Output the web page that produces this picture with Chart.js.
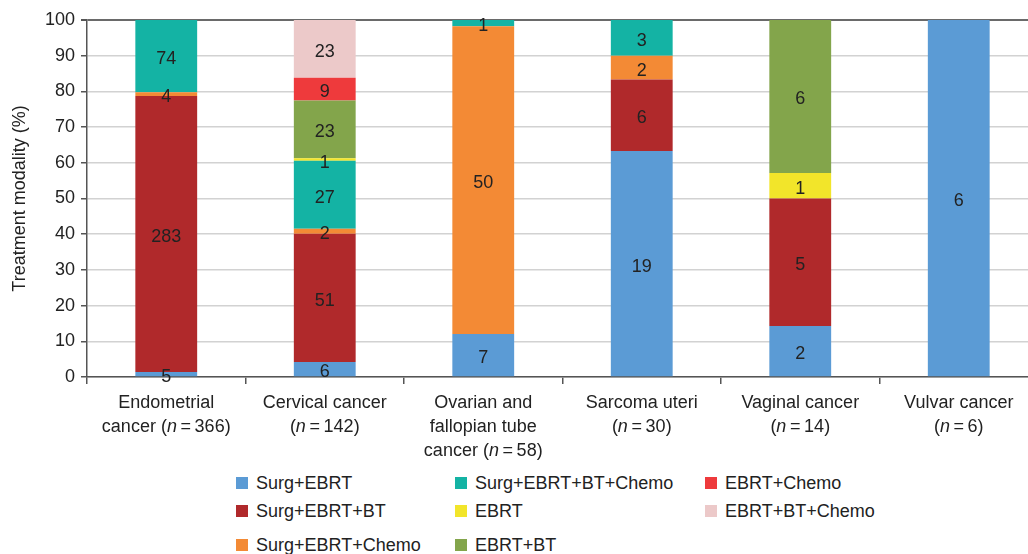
<!DOCTYPE html>
<html>
<head>
<meta charset="utf-8">
<script src="https://cdn.jsdelivr.net/npm/chart.js@4.4.1/dist/chart.umd.min.js"></script>
<style>
  html, body { margin: 0; padding: 0; background: #fff; overflow: hidden; width: 1028px; height: 554px; }
  #wrap { position: absolute; left: 0; top: 0; width: 1040px; height: 471px; }
  .lg { position: absolute; font: 18px "Liberation Sans", Arial, sans-serif; color: #222; white-space: nowrap; line-height: 20px; }
  .lg i { position: absolute; left: 0; top: 4px; width: 12px; height: 12px; }
  .lg span { position: absolute; left: 20px; top: 0; }
</style>
</head>
<body>
<div id="wrap"><canvas id="chart"></canvas></div>
<div id="legend"></div>
<script>
/* globals Chart:false */

// category labels (n is drawn in italics)
const categories = [
  ['Endometrial', 'cancer (n\u2009=\u2009366)'],
  ['Cervical cancer', '(n\u2009=\u2009142)'],
  ['Ovarian and', 'fallopian tube', 'cancer (n\u2009=\u200958)'],
  ['Sarcoma uteri', '(n\u2009=\u200930)'],
  ['Vaginal cancer', '(n\u2009=\u200914)'],
  ['Vulvar cancer', '(n\u2009=\u20096)']
]
const totals = [366, 142, 58, 30, 14, 6]

// patient counts per treatment, bottom of stack first
const seriesNames = [
  'Surg+EBRT', 'Surg+EBRT+BT', 'Surg+EBRT+Chemo', 'Surg+EBRT+BT+Chemo',
  'EBRT', 'EBRT+BT', 'EBRT+Chemo', 'EBRT+BT+Chemo'
]
const surgEbrt        = [5, 6, 7, 19, 2, 6]
const surgEbrtBt      = [283, 51, 0, 6, 5, 0]
const surgEbrtChemo   = [4, 2, 50, 2, 0, 0]
const surgEbrtBtChemo = [74, 27, 1, 3, 0, 0]
const ebrt            = [0, 1, 0, 0, 1, 0]
const ebrtBt          = [0, 23, 0, 0, 6, 0]
const ebrtChemo       = [0, 9, 0, 0, 0, 0]
const ebrtBtChemo     = [0, 23, 0, 0, 0, 0]
const seriesCounts = [surgEbrt, surgEbrtBt, surgEbrtChemo, surgEbrtBtChemo, ebrt, ebrtBt, ebrtChemo, ebrtBtChemo]

const yTicks = [0, 10, 20, 30, 40, 50, 60, 70, 80, 90, 100]

const colors = ['#5b9bd5', '#b0292b', '#f38a35', '#14b3a4', '#f2e52a', '#83a54b', '#ee3a3c', '#ecc9c9']
const FONT = '"Liberation Sans", Arial, sans-serif'

const countLabels = {
  id: 'countLabels',
  afterDatasetsDraw (chart) {
    const ctx = chart.ctx
    ctx.save()
    ctx.font = '18px ' + FONT
    ctx.fillStyle = '#222'
    ctx.textAlign = 'center'
    ctx.textBaseline = 'middle'
    chart.data.datasets.forEach((ds, i) => {
      chart.getDatasetMeta(i).data.forEach((bar, j) => {
        const c = seriesCounts[i][j]
        if (!c) return
        const p = bar.getProps(['x', 'y', 'base'], true)
        ctx.fillText(String(c), p.x, (p.y + p.base) / 2 + 3)
      })
    })
    ctx.restore()
  }
}

// x labels with italic n
const catLabels = {
  id: 'catLabels',
  afterDraw (chart) {
    const ctx = chart.ctx
    const sx = chart.scales.x
    const bottom = chart.chartArea.bottom
    ctx.save()
    ctx.fillStyle = '#222'
    ctx.textBaseline = 'middle'
    ctx.textAlign = 'left'
    categories.forEach((lines, j) => {
      const cx = sx.getPixelForValue(j)
      lines.forEach((line, k) => {
        const y = bottom + 26 + k * 24
        const m = line.match(/^(.*\()n(.*)$/)
        const parts = m ? [[m[1], ''], ['n', 'italic '], [m[2], '']] : [[line, '']]
        let w = 0
        parts.forEach(p => { ctx.font = p[1] + '18px ' + FONT; w += ctx.measureText(p[0]).width })
        let x = cx - w / 2
        parts.forEach(p => {
          ctx.font = p[1] + '18px ' + FONT
          ctx.fillText(p[0], x, y)
          x += ctx.measureText(p[0]).width
        })
      })
    })
    ctx.restore()
  }
}

new Chart(document.getElementById('chart'), {
  type: 'bar',
  data: {
    labels: categories.map(c => c.join(' ')),
    datasets: seriesNames.map((name, i) => ({
      label: name,
      data: seriesCounts[i].map((c, j) => c / totals[j] * 100),
      backgroundColor: colors[i],
      borderWidth: 0,
      barPercentage: 0.39,
      categoryPercentage: 1
    }))
  },
  options: {
    responsive: true,
    maintainAspectRatio: false,
    animation: false,
    layout: { padding: { top: 20, right: 2, left: 0, bottom: 0 } },
    plugins: { legend: { display: false }, tooltip: { enabled: false } },
    scales: {
      x: {
        stacked: true,
        border: { color: '#555', width: 1.5 },
        grid: { drawOnChartArea: false, offset: true, color: '#555', tickLength: 7, lineWidth: 1.5 },
        ticks: { display: false },
        afterFit: s => { s.height = 94 }
      },
      y: {
        stacked: true,
        min: 0,
        max: 100,
        afterBuildTicks: s => { s.ticks = yTicks.map(v => ({ value: v })) },
        border: { color: '#555', width: 1.5 },
        grid: {
          color: c => (c.tick && c.tick.value === 100 ? '#6a6a6a' : '#d2d2d2'),
          lineWidth: c => (c.tick && c.tick.value === 100 ? 2 : 1.5),
          tickColor: '#555',
          tickLength: 6
        },
        ticks: { color: '#222', padding: 6, font: { family: FONT, size: 18 } },
        title: { display: true, text: 'Treatment modality (%)', color: '#222', padding: 9, font: { family: FONT, size: 18 } },
        afterFit: s => { s.width = 87 }
      }
    }
  },
  plugins: [countLabels, catLabels]
})

// legend laid out in columns like the original
const legendCols = [[0, 1, 2], [3, 4, 5], [6, 7]]
const colX = [236, 455, 705]
const rowY = [473, 501, 535]
const legendEl = document.getElementById('legend')
legendCols.forEach((col, ci) => {
  col.forEach((si, ri) => {
    const d = document.createElement('div')
    d.className = 'lg'
    d.style.left = colX[ci] + 'px'
    d.style.top = rowY[ri] + 'px'
    d.innerHTML = '<i style="background:' + colors[si] + '"></i><span>' + seriesNames[si] + '</span>'
    legendEl.appendChild(d)
  })
})
</script>
</body>
</html>
